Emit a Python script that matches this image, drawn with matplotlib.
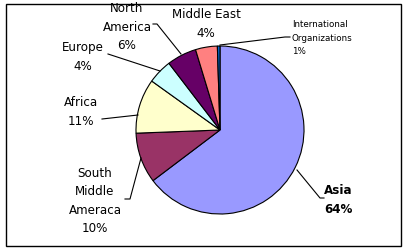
import matplotlib.pyplot as plt
from matplotlib.patches import Rectangle

# ===================== data =====================
regions = ['Asia', 'South\nMiddle\nAmeraca', 'Africa', 'Europe',
           'North\nAmerica', 'Middle East', 'International\nOrganizations']
shares = [64.7, 9.7, 10.5, 4.7, 5.7, 4.2, 0.5]
pct_labels = ['64%', '10%', '11%', '4%', '6%', '4%', '1%']
colors = ['#9999FF', '#993366', '#FFFFCC', '#CCFFFF', '#660066', '#FF8080', '#0066CC']

W, H = 406, 253
fig = plt.figure(figsize=(W / 100, H / 100), dpi=100)
ax = fig.add_axes([0, 0, 1, 1])

# pie in pixel coordinates (y up)
cx, cy, r = 220, 122, 84
ax.pie(shares, colors=colors, center=(cx, cy), radius=r, startangle=90,
       counterclock=False, wedgeprops=dict(edgecolor='black', linewidth=0.8))

ax.set_xlim(0, W)
ax.set_ylim(0, H)
ax.set_aspect('equal')
ax.axis('off')

# outer frame
ax.add_patch(Rectangle((6, 6), 395, 242, fill=False, edgecolor='black', linewidth=1.0))

fs = 8.6
lab = lambda i: f'{regions[i]}\n{pct_labels[i]}'
txt = dict(fontsize=fs, ha='center', va='center', linespacing=1.55, family='DejaVu Sans')

ax.text(338, 53, lab(0), fontweight='bold', **txt)
ax.text(95, 52, lab(1), **txt)
ax.text(81, 141, lab(2), **txt)
ax.text(83, 196, lab(3), **txt)
ax.text(127, 226, lab(4), **txt)
ax.text(206, 229, lab(5), **txt)
ax.text(292, 215, lab(6), fontsize=6.3, ha='left', va='center', linespacing=1.7,
        family='DejaVu Sans')

# leader lines
lk = dict(color='black', linewidth=0.8)
ax.plot([324, 320, 297], [54, 54, 82], **lk)      # Asia
ax.plot([125, 130, 141], [53, 53, 94], **lk)      # South Middle Ameraca
ax.plot([102, 138], [133, 137], **lk)             # Africa
ax.plot([108, 160], [198, 181], **lk)             # Europe
ax.plot([153, 157, 181], [228, 228, 198], **lk)   # North America
ax.plot([290, 285, 220], [215, 215, 207], **lk)   # International Organizations

fig.savefig('out.png', dpi=100)
